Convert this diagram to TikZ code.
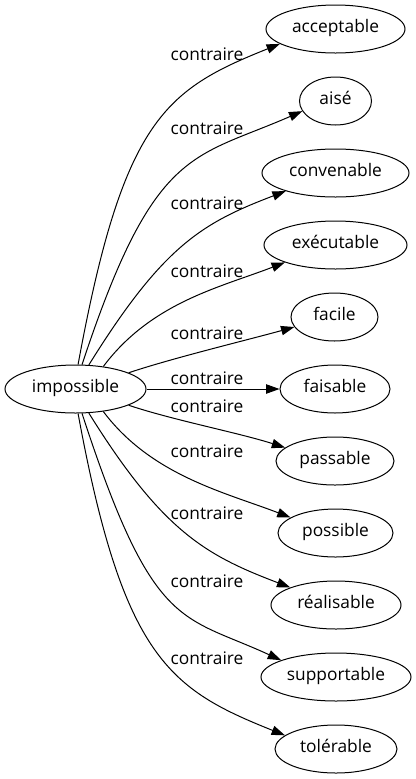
\documentclass[tikz,border=0pt]{standalone}
\usepackage{fontspec}
\setmainfont{Open Sans}
\usetikzlibrary{arrows.meta,shapes.geometric}
\begin{document}
\begin{tikzpicture}[x=0.75pt,y=-0.75pt,
  txt/.style={font=\fontsize{13pt}{15pt}\selectfont, inner sep=0pt},
  nd/.style={txt, draw, ellipse, line width=0.75pt, minimum height=36pt, text height=0.72em, text depth=0.2em},
  lbl/.style={txt, anchor=base},
  edge/.style={line width=0.75pt, -{Triangle[length=10pt,width=7pt]}}]
\fill[white] (0,0) rectangle (416,779);
\useasboundingbox (0,0) rectangle (416,779);
\node[nd, minimum width=105.75pt] (imp) at (75.5,389) {impossible};
\node[nd, minimum width=104.25pt] (acc) at (335.5,29) {acceptable};
\node[nd, minimum width=54pt] (aise) at (335.5,101) {aisé};
\node[nd, minimum width=110.25pt] (conv) at (335.5,173) {convenable};
\node[nd, minimum width=107.25pt] (exec) at (335.5,245) {exécutable};
\node[nd, minimum width=65.25pt] (faci) at (334.5,317) {facile};
\node[nd, minimum width=82.5pt] (fais) at (335,389) {faisable};
\node[nd, minimum width=88.5pt] (pass) at (335,461) {passable};
\node[nd, minimum width=86.25pt] (poss) at (335.5,533) {possible};
\node[nd, minimum width=97.5pt] (real) at (336,605) {réalisable};
\node[nd, minimum width=112.5pt] (supp) at (336,677) {supportable};
\node[nd, minimum width=91.5pt] (tole) at (336,749) {tolérable};
\node[lbl] (l1) at (207,60) {contraire};
\node[lbl] (l2) at (207,134.5) {contraire};
\node[lbl] (l3) at (207,209.5) {contraire};
\node[lbl] (l4) at (207,277.5) {contraire};
\node[lbl] (l5) at (207,339) {contraire};
\node[lbl] (l6) at (207,384) {contraire};
\node[lbl] (l7) at (207,412) {contraire};
\node[lbl] (l8) at (207,457.5) {contraire};
\node[lbl] (l9) at (207,519) {contraire};
\node[lbl] (l10) at (207,587.5) {contraire};
\node[lbl] (l11) at (207,664) {contraire};
\draw[edge] (imp.84) .. controls +(45,-245) and +(-115,46) .. (acc.195);
\draw[edge] (imp.75) .. controls +(72,-218) and +(-110,48) .. (aise.197);
\draw[edge] (imp.61) .. controls +(74,-119) and +(-84,32) .. (conv.200.7);
\draw[edge] (imp.39) .. controls +(48,-64) and +(-65,25) .. (exec.199);
\draw[edge] (imp.17) .. controls +(45,-15) and +(-47,13) .. (faci.194.5);
\draw[edge] (imp.east) -- (fais.west);
\draw[edge] (imp.-17) .. controls +(45,15) and +(-47,-15) .. (pass.165.5);
\draw[edge] (imp.-39) .. controls +(48,64) and +(-65,-25) .. (poss.161);
\draw[edge] (imp.-61) .. controls +(74,119) and +(-84,-32) .. (real.159.3);
\draw[edge] (imp.-75) .. controls +(71,218) and +(-100,-46) .. (supp.163);
\draw[edge] (imp.-84) .. controls +(45,245) and +(-115,-46) .. (tole.165.5);
\end{tikzpicture}
\end{document}
